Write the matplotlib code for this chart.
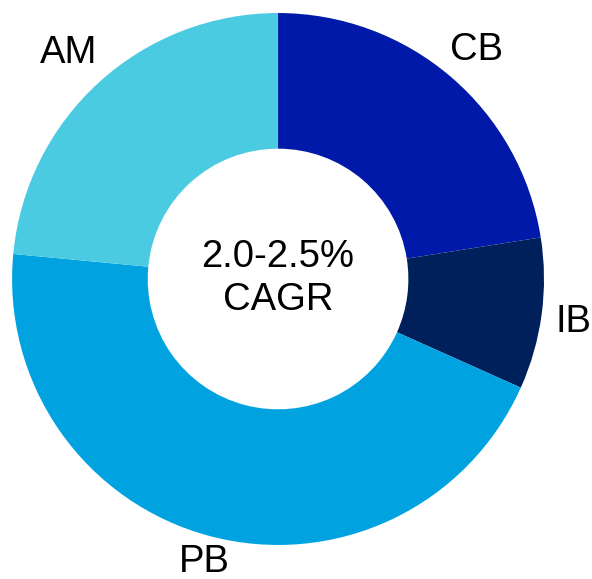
import numpy as np
import matplotlib.pyplot as plt

segments = ["CB", "IB", "PB", "AM"]
shares = [22.5, 9.2, 44.8, 23.5]
colors = ["#0019A8", "#00205B", "#00A3E0", "#4ACBE2"]
center_label = "2.0-2.5%\nCAGR"

# how far out each segment name sits, as a fraction of the outer radius
label_dist = [1.15, 1.12, 1.085, 1.17]

plt.rcParams["font.family"] = ["Liberation Sans", "DejaVu Sans"]

fig = plt.figure(figsize=(5.92, 5.79), dpi=100)
ax = fig.add_axes([0, 0, 1, 1])

wedges, _ = ax.pie(shares, colors=colors, startangle=90, counterclock=False,
                   radius=1.0, wedgeprops=dict(width=0.51, linewidth=0))

for w, name, d in zip(wedges, segments, label_dist):
    mid = np.deg2rad((w.theta1 + w.theta2) / 2)
    ax.text(d * np.cos(mid), d * np.sin(mid), name, ha="center",
            va="center_baseline", fontsize=27.5, color="black")

ax.text(0, 0, center_label, ha="center", va="center", fontsize=27.5,
        linespacing=1.25, color="black")

ax.set_xlim(-1.045, 1.180)
ax.set_ylim(-1.128, 1.049)
ax.set_aspect("equal")
ax.axis("off")

plt.savefig("out.png", dpi=100, facecolor="white")
